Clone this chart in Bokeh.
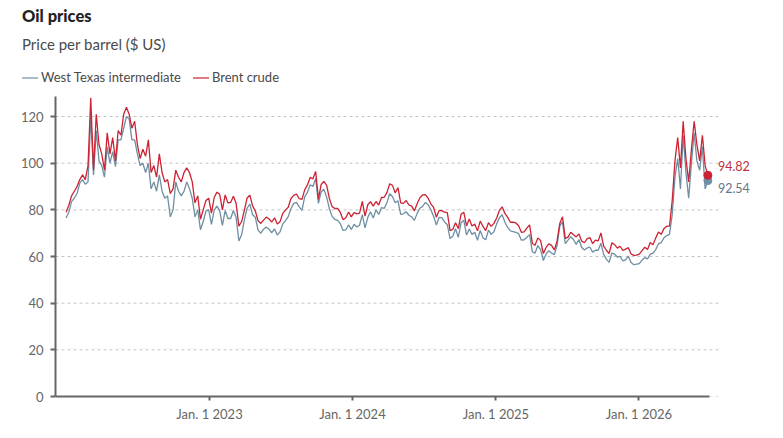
import pandas as pd
from bokeh.plotting import figure
from bokeh.layouts import column
from bokeh.models import (Range1d, FixedTicker, Label, ColumnDataSource,
                          DatetimeTickFormatter, Div)
from bokeh.embed import file_html
from bokeh.resources import INLINE

# Weekly closing prices (US$ per barrel), one value per Friday from 2021-12-31
brent = [
    # 2022
    79, 82, 86, 88, 90, 93, 95, 93, 99, 128, 97, 121, 108, 104, 97, 113, 104, 111,
    101, 114, 112, 121, 124, 121, 115, 118, 108, 102, 106, 103, 110, 96, 99, 94,
    104, 96, 92, 93, 87, 89, 97, 94, 92, 96, 98, 96, 92, 83, 86, 76, 80, 84, 85,
    # 2023
    78.6, 85.3, 87.6, 86.7, 80.0, 86.4, 83.0, 83.2, 85.8, 82.8, 73.0, 75.0, 79.8,
    85.1, 86.3, 81.7, 79.5, 75.3, 74.2, 75.6, 76.9, 76.1, 74.8, 76.6, 73.9, 74.9,
    78.5, 79.9, 81.1, 84.9, 86.2, 86.8, 84.8, 84.5, 88.6, 90.7, 93.9, 93.3, 96.5,
    84.6, 90.9, 92.2, 90.5, 84.9, 81.4, 80.6, 80.6, 78.9, 75.8, 76.6, 79.1, 77.0,
    # 2024
    78.8, 78.3, 78.6, 83.6, 77.3, 82.2, 83.5, 81.6, 83.6, 82.1, 85.3, 85.4, 87.5,
    91.2, 90.5, 87.3, 89.5, 83.0, 82.8, 84.0, 82.1, 81.6, 79.6, 82.6, 85.2, 86.4,
    86.5, 85.0, 82.6, 81.1, 76.8, 79.7, 79.7, 79.0, 78.8, 71.1, 71.6, 74.5, 72.0,
    78.1, 79.0, 73.1, 76.1, 73.1, 73.9, 71.0, 75.2, 72.9, 71.1, 74.5, 72.9, 74.2,
    # 2025
    76.5, 79.8, 81.3, 78.5, 76.8, 74.7, 74.7, 74.4, 73.2, 70.4, 70.6, 72.2, 73.6,
    65.6, 64.8, 68.0, 66.9, 61.3, 63.9, 65.4, 64.8, 62.8, 66.5, 74.2, 77.0, 67.8,
    68.3, 70.4, 69.3, 68.4, 69.7, 66.6, 65.9, 67.7, 68.1, 65.5, 67.0, 66.7, 70.1,
    64.5, 62.7, 61.3, 65.9, 65.1, 63.6, 64.4, 62.6, 63.2, 63.8, 61.1, 60.5, 60.6,
    # 2026
    61.0, 62.5, 64.0, 63.0, 66.0, 65.0, 68.0, 70.5, 69.5, 72.0, 73.0, 73.0, 84.0,
    101.0, 111.0, 98.0, 118.0, 102.0, 92.0, 106.0, 118.0, 108.0, 101.0, 112.0,
    99.0, 94.82,
]

wti = [
    # 2022
    76.5, 79, 83.5, 85, 87, 91.5, 93, 91, 92, 120, 95, 114, 101, 99, 94, 107, 100,
    105, 98.5, 110, 110, 115, 120, 119, 110, 110, 104, 99, 100, 96, 100, 89, 92, 88,
    95, 88, 85, 86, 77, 80, 92, 88, 86, 88, 92, 89, 85, 77, 80, 71.5, 75, 79.5, 80,
    # 2023
    73.8, 79.9, 81.6, 79.7, 73.4, 79.7, 76.3, 76.3, 79.7, 76.7, 66.7, 69.3, 75.7,
    80.7, 82.5, 77.9, 76.8, 71.3, 70.0, 71.7, 72.7, 71.7, 70.2, 71.8, 69.2, 70.6,
    73.9, 75.4, 77.1, 80.6, 82.8, 83.2, 81.3, 79.8, 85.6, 87.5, 90.8, 90.0, 93.5,
    82.8, 87.7, 88.8, 85.5, 80.5, 77.2, 75.9, 75.5, 74.1, 71.2, 71.4, 73.6, 71.6,
    # 2024
    73.8, 72.7, 73.4, 78.0, 72.3, 76.8, 79.2, 76.5, 80.0, 78.0, 81.0, 80.6, 83.2,
    86.9, 85.7, 83.1, 83.9, 78.1, 78.3, 79.2, 77.7, 77.0, 75.5, 78.5, 80.7, 81.5,
    83.2, 82.2, 80.1, 77.2, 73.5, 76.8, 76.7, 74.8, 73.6, 67.7, 68.7, 71.9, 68.2,
    74.4, 75.6, 69.2, 71.8, 69.5, 70.4, 67.0, 71.2, 68.0, 67.2, 71.3, 69.5, 70.6,
    # 2025
    74.0, 76.6, 77.9, 74.7, 72.5, 71.0, 70.7, 70.4, 69.8, 67.0, 67.2, 68.3, 69.4,
    62.0, 61.5, 64.7, 63.0, 58.3, 61.0, 62.5, 61.5, 60.8, 64.6, 73.0, 74.9, 65.5,
    67.0, 68.5, 67.3, 65.2, 67.3, 63.9, 62.8, 63.7, 64.0, 61.9, 62.7, 62.7, 65.7,
    60.9, 58.9, 57.5, 61.5, 61.0, 59.8, 60.1, 58.1, 58.6, 60.1, 57.4, 56.5, 56.7,
    # 2026
    57.0, 58.5, 59.5, 59.0, 61.0, 61.5, 63.0, 65.5, 66.0, 68.0, 69.0, 69.5, 78.0,
    94.0, 102.0, 89.0, 112.0, 96.0, 85.0, 100.0, 113.0, 101.0, 97.0, 107.0,
    89.0, 92.54,
]

dates = pd.date_range("2021-12-31", periods=len(brent), freq="7D")

title_text = "Oil prices"
subtitle_text = "Price per barrel ($ US)"
series_names = ["West Texas intermediate", "Brent crude"]
y_ticks = [0, 20, 40, 60, 80, 100, 120]
x_tick_dates = ["2023-01-01", "2024-01-01", "2025-01-01", "2026-01-01"]
x_tick_labels = ["Jan. 1 2023", "Jan. 1 2024", "Jan. 1 2025", "Jan. 1 2026"]

FONT = "Lato"
BRENT_COLOR = "#cc2233"
WTI_COLOR = "#6f8fa3"
AXIS_COLOR = "#666666"
GRID_COLOR = "#c4c4c4"

X_START, X_END = "2021-12-04", "2027-01-05"   # visible time window
GRID_END = "2026-07-26"                        # where the dashed guides stop
AXIS_END = "2026-06-30"                        # where the time axis line stops


def ms(ts):
    return float(pd.Timestamp(ts).value // 10**6)


def swatch(color, left_gap):
    return (f'<span style="display:inline-block;width:16px;height:2px;background-color:{color};'
            f'opacity:0.6;margin-left:{left_gap}px;margin-right:3px;"></span>')


# ---- header: title, subtitle and legend ----
header_html = (
    f'<div style="position:relative;width:783px;height:96px;font-family:\'{FONT}\',sans-serif;">'
    f'<div style="position:absolute;left:22px;top:8px;font-size:16.5px;line-height:1;'
    f'font-weight:900;color:#222;white-space:nowrap;">{title_text}</div>'
    f'<div style="position:absolute;left:22px;top:37px;font-size:15px;line-height:1;'
    f'color:#4a4a4a;white-space:nowrap;">{subtitle_text}</div>'
    f'<div style="position:absolute;left:22px;top:70px;height:15px;display:flex;'
    f'align-items:center;font-size:13px;line-height:1;color:#4a4a4a;white-space:nowrap;">'
    f'{swatch(WTI_COLOR, 0)}<span>{series_names[0]}</span>'
    f'{swatch(BRENT_COLOR, 12)}<span>{series_names[1]}</span>'
    f'</div></div>'
)
header = Div(text=header_html, width=783, height=96, margin=0)

# ---- chart ----
p = figure(
    width=783, height=342, x_axis_type="datetime",
    x_range=Range1d(ms(X_START), ms(X_END)),
    y_range=Range1d(0, 128.6),
    output_backend="svg", toolbar_location=None,
    min_border_left=55, min_border_right=0, min_border_top=0, min_border_bottom=42,
    margin=0,
)
p.background_fill_color = "white"
p.border_fill_color = "white"
p.outline_line_color = None
p.xgrid.visible = False
p.ygrid.visible = False

# dashed horizontal guides, stopping a little past the last observation
p.segment(x0=[ms(X_START)] * len(y_ticks), x1=[ms(GRID_END)] * len(y_ticks),
          y0=y_ticks, y1=y_ticks, line_color=GRID_COLOR, line_dash="3 3", line_width=1)

# y axis
p.yaxis.ticker = FixedTicker(ticks=y_ticks)
p.yaxis.axis_line_color = AXIS_COLOR
p.yaxis.axis_line_width = 2
p.yaxis.major_tick_line_color = AXIS_COLOR
p.yaxis.major_tick_line_width = 2
p.yaxis.major_tick_in = 0
p.yaxis.major_tick_out = 5
p.yaxis.minor_tick_line_color = None
p.yaxis.major_label_standoff = 7
p.yaxis.major_label_text_font = FONT
p.yaxis.major_label_text_font_size = "13px"
p.yaxis.major_label_text_color = AXIS_COLOR

# x axis
tick_ms = [ms(d) for d in x_tick_dates]
p.xaxis.ticker = FixedTicker(ticks=tick_ms)
p.xaxis.formatter = DatetimeTickFormatter(years="%Y", months="%Y", days="%Y")
p.xaxis.major_label_overrides = {t: lab for t, lab in zip(tick_ms, x_tick_labels)}
p.xaxis.bounds = (ms(X_START), ms(AXIS_END))
p.xaxis.axis_line_color = AXIS_COLOR
p.xaxis.axis_line_width = 2
p.xaxis.major_tick_line_color = AXIS_COLOR
p.xaxis.major_tick_line_width = 2
p.xaxis.major_tick_in = 0
p.xaxis.major_tick_out = 4
p.xaxis.minor_tick_line_color = None
p.xaxis.major_label_standoff = 5
p.xaxis.major_label_text_font = FONT
p.xaxis.major_label_text_font_size = "13px"
p.xaxis.major_label_text_color = AXIS_COLOR

src = ColumnDataSource(dict(date=[ms(d) for d in dates], brent=brent, wti=wti))
p.line("date", "wti", source=src, line_color=WTI_COLOR, line_width=1.3)
p.line("date", "brent", source=src, line_color=BRENT_COLOR, line_width=1.3)

# end-point markers and value labels
last_x = ms(dates[-1])
p.scatter([last_x], [wti[-1]], size=8, fill_color=WTI_COLOR, line_color=WTI_COLOR)
p.scatter([last_x], [brent[-1]], size=8, fill_color=BRENT_COLOR, line_color=BRENT_COLOR)
p.add_layout(Label(x=last_x, y=brent[-1], text=f"{brent[-1]:.2f}", x_offset=10, y_offset=9,
                   text_baseline="middle", text_font=FONT, text_font_size="12.5px",
                   text_color="#c0303c"))
p.add_layout(Label(x=last_x, y=wti[-1], text=f"{wti[-1]:.2f}", x_offset=10, y_offset=-7,
                   text_baseline="middle", text_font=FONT, text_font_size="12.5px",
                   text_color="#66788a"))

layout = column(header, p, spacing=0, margin=0)
open("out.html", "w").write(file_html(layout, INLINE))
